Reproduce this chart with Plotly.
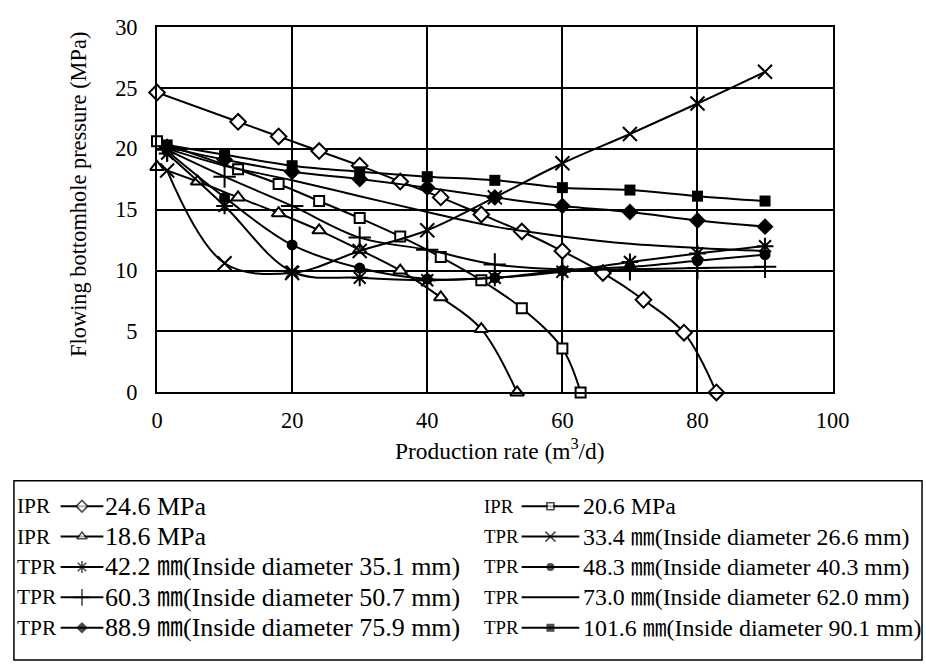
import plotly.graph_objects as go

# ---------------- data ----------------
ipr_246_q = [0, 12, 18, 24, 30, 36, 42, 48, 54, 60, 66, 72, 78, 82.8]
ipr_246_p = [24.6, 22.2, 21.0, 19.8, 18.6, 17.3, 16.0, 14.6, 13.2, 11.6, 9.8, 7.6, 4.9, 0]

ipr_206_q = [0, 12, 18, 24, 30, 36, 42, 48, 54, 60, 62.7]
ipr_206_p = [20.6, 18.3, 17.1, 15.7, 14.3, 12.8, 11.1, 9.2, 6.9, 3.6, 0]

ipr_186_q = [0, 6, 12, 18, 24, 30, 36, 42, 48, 53.3]
ipr_186_p = [18.5, 17.3, 16.0, 14.7, 13.3, 11.7, 10.0, 7.8, 5.2, 0]

tpr_q = [1.5, 10, 20, 30, 40, 50, 60, 70, 80, 90]
tpr_334_p = [18.2, 10.6, 9.8, 11.6, 13.3, 16.0, 18.8, 21.2, 23.7, 26.3]
tpr_422_p = [19.6, 15.3, 9.9, 9.4, 9.2, 9.4, 9.9, 10.7, 11.4, 12.0]
tpr_483_p = [19.8, 16.0, 12.1, 10.2, 9.3, 9.4, 10.0, 10.3, 10.8, 11.3]
tpr_603_p = [19.9, 17.7, 15.3, 12.7, 11.7, 10.5, 10.1, 10.1, 10.2, 10.3]
tpr_730_p = [20.0, 18.6, 17.4, 16.1, 14.8, 13.6, 12.8, 12.2, 11.85, 11.6]
tpr_889_p = [20.1, 19.1, 18.1, 17.5, 16.8, 16.0, 15.3, 14.8, 14.1, 13.6]
tpr_1016_p = [20.3, 19.5, 18.6, 18.1, 17.7, 17.4, 16.8, 16.6, 16.1, 15.7]

prefixes = ["IPR", "IPR", "IPR", "TPR", "TPR", "TPR", "TPR", "TPR", "TPR", "TPR"]
labels = [
    "24.6 MPa",
    "20.6 MPa",
    "18.6 MPa",
    "33.4 ㎜(Inside diameter 26.6 mm)",
    "42.2 ㎜(Inside diameter 35.1 mm)",
    "48.3 ㎜(Inside diameter 40.3 mm)",
    "60.3 ㎜(Inside diameter 50.7 mm)",
    "73.0 ㎜(Inside diameter 62.0 mm)",
    "88.9 ㎜(Inside diameter 75.9 mm)",
    "101.6 ㎜(Inside diameter 90.1 mm)",
]
x_ticks = [0, 20, 40, 60, 80, 100]
y_ticks = [0, 5, 10, 15, 20, 25, 30]

# ---------------- layout constants (target picture pixels) ----------------
FONT = "Liberation Serif, Times New Roman, Noto Sans CJK SC, serif"
TW, TH = 926, 667            # target picture size
S = 0.982                    # observed capture scale
W, H = round(TW / S), round(TH / S)
PL, PR, PT, PB = 152, 832, 15, 388


def fs(v):
    return round(v / S, 1)


series = [
    (ipr_246_q, ipr_246_p, dict(symbol="diamond", color="white", size=12, line=dict(color="black", width=2))),
    (ipr_206_q, ipr_206_p, dict(symbol="square", color="white", size=10, line=dict(color="black", width=2))),
    (ipr_186_q, ipr_186_p, dict(symbol="triangle-up", color="white", size=12, line=dict(color="black", width=2))),
    (tpr_q, tpr_334_p, dict(symbol="x-thin-open", color="black", size=14, line=dict(color="black", width=2))),
    (tpr_q, tpr_422_p, dict(symbol="asterisk-open", color="black", size=14, line=dict(color="black", width=2))),
    (tpr_q, tpr_483_p, dict(symbol="circle", color="black", size=11, line=dict(color="black", width=0))),
    (tpr_q, tpr_603_p, dict(symbol="cross-thin-open", color="black", size=16, line=dict(color="black", width=2))),
    (tpr_q, tpr_730_p, None),
    (tpr_q, tpr_889_p, dict(symbol="diamond", color="black", size=13, line=dict(color="black", width=0))),
    (tpr_q, tpr_1016_p, dict(symbol="square", color="black", size=11, line=dict(color="black", width=0))),
]

fig = go.Figure()
for q, p, mk in series:
    fig.add_trace(go.Scatter(
        x=q, y=p,
        mode="lines+markers" if mk else "lines",
        line=dict(color="black", width=2, shape="spline", smoothing=1),
        marker=mk if mk else None,
        showlegend=False, xaxis="x", yaxis="y", cliponaxis=False,
    ))

# ---------------- custom legend (drawn on a pixel-space overlay axis) ----------------
col_prefix_x = [9, 479]
col_prefix_size = [21, 18.5]
col_line = [(55, 98), (519, 577)]
col_text_x = [98, 579]
col_text_size = [25.5, 23.5]
row_y = [504, 535, 566, 597, 628]
annotations = []
for i, ((q, p, mk), pre, lab) in enumerate(zip(series, prefixes, labels)):
    r, c = divmod(i, 2)
    yy = row_y[r]
    x0, x1 = col_line[c]
    xm = (x0 + x1) / 2
    if mk:
        lm = dict(mk)
        lm["size"] = [0, round(mk["size"] * 0.72), 0]
        lm["line"] = dict(color="black", width=1.6 if mk["line"]["width"] else 0)
        fig.add_trace(go.Scatter(x=[x0, xm, x1], y=[yy, yy, yy], mode="lines+markers",
                                 line=dict(color="black", width=2), marker=lm,
                                 showlegend=False, xaxis="x2", yaxis="y2", cliponaxis=False))
    else:
        fig.add_trace(go.Scatter(x=[x0, x1], y=[yy, yy], mode="lines",
                                 line=dict(color="black", width=2),
                                 showlegend=False, xaxis="x2", yaxis="y2", cliponaxis=False))
    annotations.append(dict(x=col_prefix_x[c], y=yy, xref="x2", yref="y2", text=pre,
                            showarrow=False, xanchor="left", yanchor="middle",
                            font=dict(family=FONT, size=fs(col_prefix_size[c]), color="black")))
    annotations.append(dict(x=col_text_x[c], y=yy, xref="x2", yref="y2", text=lab,
                            showarrow=False, xanchor="left", yanchor="middle",
                            font=dict(family=FONT, size=fs(col_text_size[c]), color="black")))

annotations.append(dict(x=73, y=186, xref="x2", yref="y2",
                        text="Flowing bottomhole pressure (MPa)", textangle=-90,
                        showarrow=False, xanchor="center", yanchor="middle",
                        font=dict(family=FONT, size=fs(22), color="black")))
annotations.append(dict(x=497, y=446, xref="x2", yref="y2",
                        text="Production rate (m<sup>3</sup>/d)",
                        showarrow=False, xanchor="center", yanchor="middle",
                        font=dict(family=FONT, size=fs(23), color="black")))

axis_common = dict(showline=True, mirror=True, linecolor="black", linewidth=2,
                   showgrid=True, gridcolor="black", gridwidth=1.5, zeroline=False,
                   ticks="", tickfont=dict(family=FONT, size=fs(22), color="black"))

fig.update_layout(
    width=W, height=H,
    margin=dict(l=0, r=0, t=0, b=0),
    paper_bgcolor="white", plot_bgcolor="rgba(0,0,0,0)",
    xaxis=dict(domain=[PL / TW, PR / TW], range=[0, 100], tickvals=x_ticks,
               ticklabelstandoff=7, anchor="y", **axis_common),
    yaxis=dict(domain=[1 - PB / TH, 1 - PT / TH], range=[0, 30], tickvals=y_ticks,
               ticklabelstandoff=13, anchor="x", **axis_common),
    xaxis2=dict(domain=[0, 1], range=[0, TW], visible=False, anchor="y2", fixedrange=True),
    yaxis2=dict(domain=[0, 1], range=[TH, 0], visible=False, anchor="x2", fixedrange=True),
    shapes=[dict(type="rect", xref="x2", yref="y2", x0=8, x1=922, y0=478, y1=661,
                 line=dict(color="black", width=1.5), layer="below")],
    annotations=annotations,
    showlegend=False,
)

fig.write_html("out.html")
